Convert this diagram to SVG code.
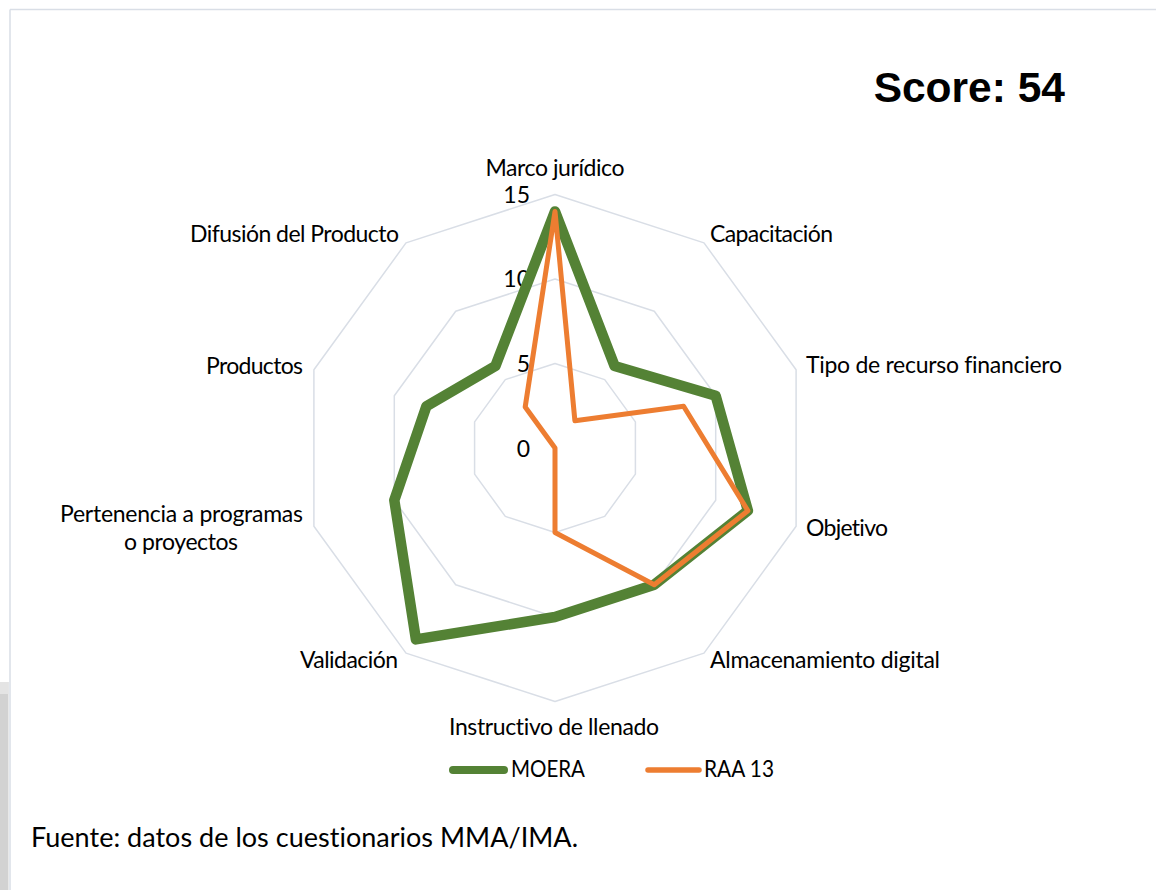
<svg xmlns="http://www.w3.org/2000/svg" width="1156" height="890" viewBox="0 0 1156 890">
  <style>
    text { font-variant-ligatures: none; }
    .lbl { font-family: Lato, "Open Sans", "Liberation Sans", sans-serif; font-size: 23px; fill: #000; }
    .tick { font-family: Lato, "Open Sans", "Liberation Sans", sans-serif; font-size: 23px; fill: #000; text-anchor: end; }
    .ring { fill: none; stroke: #D9DEE6; stroke-width: 1.5; stroke-linejoin: round; }
    .moera { fill: none; stroke: #548235; stroke-width: 10.5; stroke-linejoin: round; }
    .raa { fill: none; stroke: #ED7D31; stroke-width: 5; stroke-linejoin: round; }
  </style>
  <rect x="0" y="0" width="1156" height="890" fill="#FFFFFF"/>
  <!-- frame -->
  <g id="frame">
    <line x1="10" y1="9.5" x2="1156" y2="9.5" stroke="#D9DEE6" stroke-width="1.5"/>
    <line x1="10" y1="9.5" x2="10" y2="890" stroke="#D9DEE6" stroke-width="1.5"/>
    <rect x="0" y="682" width="8.5" height="208" fill="#D2D2D2"/>
    <rect x="0" y="682" width="8.5" height="12" fill="#E4E4E4"/>
  </g>
  <g id="title">
    <text x="1065" y="101.5" text-anchor="end" font-family="'Liberation Sans', Arial, sans-serif" font-weight="bold" font-size="42.5" fill="#000">Score: 54</text>
  </g>
  <!-- grid -->
  <g id="grid">
    <polygon class="ring" points="555,363.5 604.7,379.6 635.4,421.9 635.4,474.1 604.7,516.4 555,532.5 505.3,516.4 474.6,474.1 474.6,421.9 505.3,379.6"/>
    <polygon class="ring" points="555,279 654.3,311.3 715.7,395.8 715.7,500.2 654.3,584.7 555,617 455.7,584.7 394.3,500.2 394.3,395.8 455.7,311.3"/>
    <polygon class="ring" points="555,194.5 704,242.9 796.1,369.7 796.1,526.3 704,653.1 555,701.5 406,653.1 313.9,526.3 313.9,369.7 406,242.9"/>
  </g>
  <g id="ticks">
    <text class="tick" x="530" y="203">15</text>
    <text class="tick" x="530" y="287">10</text>
    <text class="tick" x="530" y="372">5</text>
    <text class="tick" x="530" y="457">0</text>
  </g>
  <!-- series -->
  <g id="connectors">
    <polygon id="series-moera" class="moera" points="555,211.4 614.6,366 715.7,395.8 747.9,510.7 654.3,584.7 555,617 415.9,639.4 394.3,500.2 426.4,406.2 495.4,366"/>
    <polygon id="series-raa13" class="raa" points="555,211.4 574.9,420.7 683.6,406.2 747.9,510.7 654.3,584.7 555,532.5 555,448 555,448 555,448 525.2,407"/>
  </g>
  <!-- category labels -->
  <g id="node-marco"><text class="lbl" x="555" y="176" text-anchor="middle" textLength="139">Marco jurídico</text></g>
  <g id="node-capacitacion"><text class="lbl" x="710" y="242" textLength="123">Capacitación</text></g>
  <g id="node-tipo"><text class="lbl" x="806" y="373" textLength="256">Tipo de recurso financiero</text></g>
  <g id="node-objetivo"><text class="lbl" x="806" y="536" textLength="82">Objetivo</text></g>
  <g id="node-almacenamiento"><text class="lbl" x="710" y="668" textLength="230">Almacenamiento digital</text></g>
  <g id="node-instructivo"><text class="lbl" x="554" y="735" text-anchor="middle" textLength="210">Instructivo de llenado</text></g>
  <g id="node-validacion"><text class="lbl" x="398" y="668" text-anchor="end" textLength="98">Validación</text></g>
  <g id="node-pertenencia">
    <text class="lbl" x="181.5" y="522" text-anchor="middle" textLength="243">Pertenencia a programas</text>
    <text class="lbl" x="181" y="550" text-anchor="middle" textLength="114">o proyectos</text>
  </g>
  <g id="node-productos"><text class="lbl" x="303" y="374" text-anchor="end" textLength="97">Productos</text></g>
  <g id="node-difusion"><text class="lbl" x="399" y="242" text-anchor="end" textLength="209">Difusión del Producto</text></g>
  <!-- legend -->
  <g id="legend">
    <line x1="453" y1="770" x2="504" y2="770" stroke="#548235" stroke-width="8" stroke-linecap="round"/>
    <text class="lbl" x="511" y="777" textLength="74" lengthAdjust="spacingAndGlyphs">MOERA</text>
    <line x1="648" y1="770" x2="699" y2="770" stroke="#ED7D31" stroke-width="5.5" stroke-linecap="round"/>
    <text class="lbl" x="704" y="777" textLength="70" lengthAdjust="spacingAndGlyphs">RAA 13</text>
  </g>
  <g id="source">
    <text x="31" y="847" font-family="Lato, 'Open Sans', 'Liberation Sans', sans-serif" font-size="27" fill="#000" textLength="547">Fuente: datos de los cuestionarios MMA/IMA.</text>
  </g>
</svg>
